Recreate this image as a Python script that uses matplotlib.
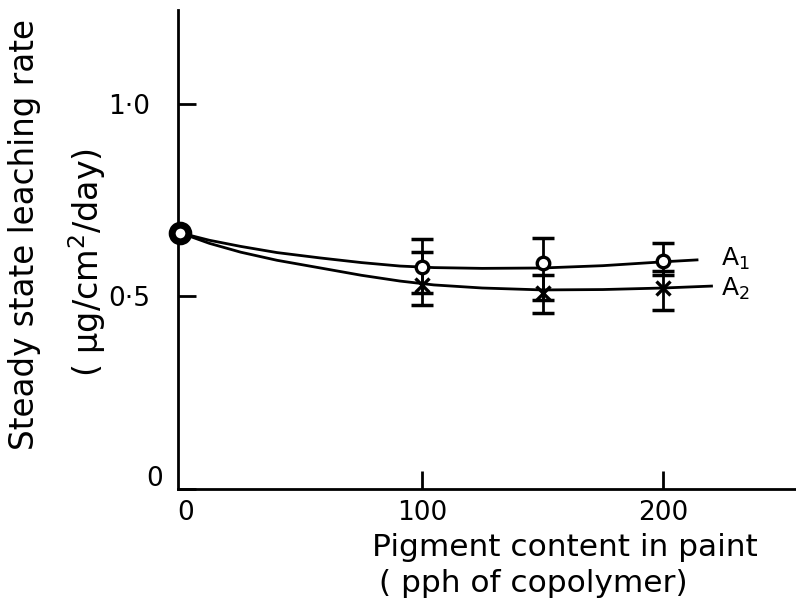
import matplotlib
matplotlib.use("Agg")
import matplotlib.pyplot as plt
import matplotlib.transforms as mtransforms

# pigment content (pph) and leaching rate
pigment = [100, 150, 200]
a1_rate = [0.577, 0.587, 0.592]
a1_low = [0.51, 0.49, 0.555]
a1_high = [0.65, 0.652, 0.64]
a2_rate = [0.53, 0.51, 0.522]
a2_low = [0.478, 0.457, 0.465]
a2_high = [0.615, 0.556, 0.565]
zero_rate = 0.665

# hand-drawn fitted curves, traced points
a1_curve_x = [0, 12, 25, 40, 58, 75, 91, 105, 125, 150, 175, 200, 214]
a1_curve_y = [0.665, 0.646, 0.63, 0.614, 0.60, 0.588, 0.579, 0.575, 0.573, 0.574, 0.58, 0.59, 0.595]
a2_curve_x = [0, 12, 25, 40, 58, 75, 91, 105, 125, 150, 175, 200, 220]
a2_curve_y = [0.665, 0.638, 0.615, 0.594, 0.574, 0.555, 0.540, 0.530, 0.522, 0.517, 0.518, 0.522, 0.527]

fig = plt.figure(figsize=(7.96, 6.04), dpi=100)
ax = fig.add_axes([178 / 796, 1 - 489 / 604, 1 - 178 / 796, (489 - 10) / 604])

ax.plot(a1_curve_x, a1_curve_y, color="black", lw=2)
ax.plot(a2_curve_x, a2_curve_y, color="black", lw=2)

err1 = [[y - l for y, l in zip(a1_rate, a1_low)], [h - y for y, h in zip(a1_rate, a1_high)]]
err2 = [[y - l for y, l in zip(a2_rate, a2_low)], [h - y for y, h in zip(a2_rate, a2_high)]]
ax.errorbar(pigment, a1_rate, yerr=err1, fmt="none", ecolor="black", elinewidth=2,
            capsize=8, capthick=2.5)
ax.errorbar(pigment, a2_rate, yerr=err2, fmt="none", ecolor="black", elinewidth=2,
            capsize=8, capthick=2.5)
ax.plot(pigment, a1_rate, "o", ms=9, mfc="white", mec="black", mew=2.4, zorder=5)
ax.plot(pigment, a2_rate, "x", ms=10, color="black", mew=2.4, zorder=5)
ax.plot([0], [zero_rate], "o", ms=12, mfc="white", mec="black", mew=5, zorder=6,
        clip_on=False)

ax.set_xlim(-1, 255)
ax.set_ylim(0, 1.244)
ax.spines["top"].set_visible(False)
ax.spines["right"].set_visible(False)
for s in ("left", "bottom"):
    ax.spines[s].set_linewidth(2)

ax.set_xticks([0, 100, 200])
ax.set_xticklabels(["0", "100", "200"])
ax.set_yticks([0, 0.5, 1.0])
ax.set_yticklabels(["0", "0·5", "1·0"])
ax.tick_params(axis="both", direction="in", length=13, width=2, labelsize=19)
ax.tick_params(axis="y", pad=20)
ax.tick_params(axis="x", pad=8)
ax.xaxis.get_major_ticks()[0].tick1line.set_visible(False)
# the zero labels are drawn a little off their ticks
ylbl0 = ax.get_yticklabels()[0]
ylbl0.set_transform(ylbl0.get_transform() + mtransforms.ScaledTranslation(13 / 100, 13 / 100, fig.dpi_scale_trans))
xlbl0 = ax.get_xticklabels()[0]
xlbl0.set_transform(xlbl0.get_transform() + mtransforms.ScaledTranslation(5 / 100, 0, fig.dpi_scale_trans))

ax.text(224, 0.598, "A$_1$", fontsize=18, va="center", ha="left")
ax.text(224, 0.52, "A$_2$", fontsize=18, va="center", ha="left")

fig.text(25 / 796, 1 - 235 / 604, "Steady state leaching rate", rotation=90,
         fontsize=23.5, ha="center", va="center")
fig.text(87 / 796, 1 - 262 / 604, "( µg/cm$^2$/day)", rotation=90,
         fontsize=24, ha="center", va="center")
fig.text(372 / 796, 1 - 548 / 604, "Pigment content in paint", fontsize=22.5,
         ha="left", va="center")
fig.text(379 / 796, 1 - 583 / 604, "( pph of copolymer)", fontsize=22.5,
         ha="left", va="center")

fig.savefig("out.png", dpi=100)
